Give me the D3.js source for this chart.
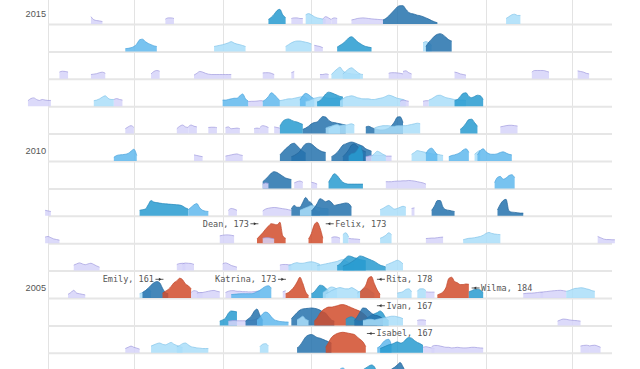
<!DOCTYPE html>
<html><head><meta charset="utf-8">
<script src="https://cdn.jsdelivr.net/npm/d3@7"></script>
<style>body{margin:0;background:#fff}svg{display:block}</style>
</head><body><svg id="chart" width="640" height="369"></svg>
<script>
// ---- data (winds in mph, one value per day from the start date) ----
const years = [2015,2014,2013,2012,2011,2010,2009,2008,2007,2006,2005,2004,2003,2002];
const labeledYears = [2015, 2010, 2005];
const monthTicks = ["06-01","07-01","08-01","09-01","10-01","11-01","12-01"];
const catColors  = ["#d6d3f9","#aadef9","#60b8ed","#289bd0","#2572ad","#d14c2c"];
const catStrokes = ["#a39ddf","#86c6ea","#4aa3dc","#2589bb","#22649a","#c0462a"];

const s2015 = [
 ["Bill",0,"06-16",[60,35,28,25,20]],
 ["Claudette",0,"07-12",[40,50,50,45]],
 ["Danny",3,"08-17",[38,55,80,110,120,75,52]],
 ["Erika",0,"08-25",[45,50,50,45,45]],
 ["Fred",1,"08-30",[75,85,75,60,50,45,40,35]],
 ["Grace",0,"09-05",[40,60,50,35]],
 ["Henri",0,"09-08",[40,50,45]],
 ["Ida",0,"09-15",[33,38,45,48,50,48,45,42,40,38,36,35]],
 ["Joaquin",4,"09-26",[33,45,65,90,115,140,150,150,120,95,85,80,72,68,60,50,40,28,18,10]],
 ["Kate",1,"11-08",[45,60,75,80,70,70]]
];
const s2014 = [
 ["Arthur",2,"06-28",[22,25,30,40,60,95,100,80,65,55,45,40]],
 ["Bertha",1,"07-29",[40,45,50,55,62,70,80,68,60,55,48,40]],
 ["Cristobal",1,"08-23",[40,55,70,80,85,85,80,75,70,60]],
 ["Dolly",0,"09-02",[50,45,40,30]],
 ["Edouard",3,"09-10",[35,50,65,85,110,120,105,80,65,50,40,35,30]],
 ["Fay",1,"10-10",[70,80,70,50]],
 ["Gonzalo",4,"10-11",[40,75,100,125,140,145,135,115,95,85]]
];
const s2013 = [
 ["Andrea",0,"06-05",[55,62,60,55]],
 ["Barry",0,"06-16",[35,38,42,50,54,45]],
 ["Chantal",0,"07-07",[40,60,68,62]],
 ["Dorian",0,"07-22",[30,45,60,55,45,38,35,35,35,35,35,35,35,35]],
 ["Erin",0,"08-15",[48,50,50,45,35]],
 ["Fernand",0,"08-25",[50,60]],
 ["Gabrielle",0,"09-04",[35,35,40,35]],
 ["Humberto",1,"09-08",[35,60,80,95,65,50,45,40,38,36,35]],
 ["Ingrid",1,"09-12",[40,60,80,90,75,55,40,35]],
 ["Jerry",0,"09-28",[45,50,50,48,45,40]],
 ["Karen",0,"10-03",[60,65,50,40]],
 ["Lorenzo",0,"10-21",[55,50,40,35,30]],
 ["Melissa",0,"11-17",[55,68,68,68,68,62,55]],
 ["Unnamed",0,"12-03",[65,60,55,45,40]]
];
const s2012 = [
 ["Beryl",0,"05-25",[45,62,68,55,47,55,50,47,47]],
 ["Chris",1,"06-17",[45,50,60,75,85,65,55,55]],
 ["Debby",0,"06-24",[55,62,55,50]],
 ["Ernesto",2,"08-01",[50,50,55,60,65,65,85,100,60,40]],
 ["Helene",0,"08-10",[38,40,40,42,45,45]],
 ["Gordon",2,"08-15",[40,55,80,110,95,70,45]],
 ["Isaac",1,"08-21",[45,50,55,60,60,65,70,75,80,70,50,35]],
 ["Kirk",2,"08-28",[50,85,105,95,75,60]],
 ["Leslie",1,"08-30",[40,45,55,65,70,75,75,70,65,65,65,70,60,50]],
 ["Michael",3,"09-03",[35,45,70,100,115,110,100,90,80,75]],
 ["Nadine",1,"09-11",[45,60,75,80,85,80,70,65,60,60,60,55,55,60,65,70,80,90,85,75,65,60,55,45]],
 ["Oscar",0,"10-02",[40,50,45,40]],
 ["Patty",0,"10-10",[40,45,45]],
 ["Rafael",1,"10-12",[50,60,75,88,90,80,70,65,60,55,55,50,50,45]],
 ["Sandy",3,"10-21",[45,55,80,105,110,80,70,80,90,85,55]]
];
const s2011 = [
 ["Arlene",0,"06-28",[40,55,65,50]],
 ["Bret",0,"07-16",[40,60,70,55,50]],
 ["Cindy",0,"07-20",[55,70,60,55]],
 ["Don",0,"07-27",[50,52,52,48]],
 ["Emily",0,"08-02",[48,55,40,42,45,40]],
 ["Franklin",0,"08-12",[40,45,40]],
 ["Gert",0,"08-14",[50,65,60,50]],
 ["Harvey",0,"08-19",[55,50,45]],
 ["Irene",3,"08-21",[60,100,115,120,110,100,95,85,75]],
 ["Katia",4,"08-29",[35,45,60,80,90,95,120,140,135,110,95,90,85,80,75,70]],
 ["Maria",1,"09-06",[45,55,60,65,65,65,70,70,75,80,70]],
 ["Nate",1,"09-07",[45,60,70,75,60]],
 ["Ophelia",4,"09-20",[55,60,50,40,35,30,30,35,45,65,95,135,138,90]],
 ["Philippe",1,"09-23",[45,55,60,65,65,65,60,60,65,65,65,65,70,75,80,85,80]],
 ["Rina",3,"10-23",[35,55,85,115,118,90,60]],
 ["Sean",0,"11-06",[55,60,65,68,68,65,62]]
];
const s2010 = [
 ["Alex",2,"06-24",[30,45,50,52,55,62,80,96,45]],
 ["Bonnie",0,"07-22",[50,45,40,35]],
 ["Colin",0,"08-02",[40,45,50,55,58,50,45]],
 ["Danielle",4,"08-21",[50,75,100,120,140,145,125,100,80,65]],
 ["Earl",4,"08-25",[35,45,60,80,115,140,145,140,120,100,85,75,70]],
 ["Igor",4,"09-08",[35,50,70,100,130,140,150,155,150,140,130,120,100,90,80]],
 ["Julia",4,"09-12",[35,60,90,130,140,120,100,85,75]],
 ["Karl",3,"09-14",[40,60,65,90,125,60]],
 ["Matthew",0,"09-20",[35,40,45,45,45,45,45,40,40,40]],
 ["Lisa",1,"09-22",[40,60,80,70,55,45]],
 ["Otto",1,"10-06",[55,70,85,80,75,70,65,60,55,55,50,45]],
 ["Paula",2,"10-11",[60,95,105,80,50]],
 ["Richard",2,"10-19",[35,45,50,58,70,90,100,70]],
 ["Shary",1,"10-28",[55,75,90]],
 ["Tomas",2,"10-29",[50,85,100,75,60,55,55,60,70,75,65,55,50]]
];
const s2009 = [
 ["Bill",4,"08-15",[55,75,100,125,137,130,115,100,85,78,72]],
 ["Claudette",0,"08-15",[35,45,40]],
 ["Danny",0,"08-26",[45,55,60,50]],
 ["Erika",0,"09-01",[50,45,35]],
 ["Fred",3,"09-07",[50,90,120,105,75,50,40,35,35,35,35,35,35]],
 ["Grace",0,"09-27",[55,55,55,58,60,60,62,62,65,63,60,55,50,45,35]],
 ["Ida",2,"11-04",[47,90,98,75,85,105,112,88]]
];
const s2008 = [
 ["Arthur",0,"05-31",[45,40,35]],
 ["Bertha",3,"07-03",[45,50,55,90,125,112,108,104,100,98,96,94,92,90,88,80,65,55]],
 ["Dolly",2,"07-20",[50,70,90,100,65,45,38,35]],
 ["Edouard",0,"08-03",[45,60,55,45]],
 ["Fay",0,"08-15",[40,55,62,66,68,66,62,58,55,50,45]],
 ["Gustav",4,"08-25",[55,85,70,70,110,150,120,105,60,40,35]],
 ["Hanna",1,"08-28",[45,55,65,75,85,80,70,65,60,60,55]],
 ["Ike",4,"09-01",[40,65,100,140,130,115,125,110,85,90,95,100,105,100,70]],
 ["Kyle",1,"09-25",[50,60,75,85,70,55,60,70,78,70]],
 ["Marco",0,"10-06",[60,65]],
 ["Omar",4,"10-13",[45,80,125,125,70,50,45,40,35]],
 ["Paloma",4,"11-05",[48,95,125,135,40,30,28,25,22,22]]
];
const s2007 = [
 ["Barry",0,"05-31",[50,55,45,35,30,25]],
 ["Chantal",0,"07-31",[60,65,68,68,65,60]],
 ["Dean",5,"08-13",[35,60,85,115,140,160,155,150,172,60,40]],
 ["Erin",0,"08-15",[40,45,45,40,35]],
 ["Felix",5,"08-31",[35,80,150,172,125,40]],
 ["Gabrielle",0,"09-08",[45,52,50,40]],
 ["Humberto",1,"09-12",[70,85,50]],
 ["Ingrid",0,"09-14",[40,36,35,33,30]],
 ["Karen",1,"09-25",[40,50,65,85,70]],
 ["Melissa",0,"10-11",[38,40,42,42,45,48,50]],
 ["Noel",1,"10-24",[28,35,40,42,45,50,55,65,80,88,80,75,72,70]],
 ["Olga",0,"12-10",[55,45,35,30,30,28,28]]
];
const s2006 = [
 ["Alberto",0,"06-10",[45,55,63,55,48,55,60,50,38,28]],
 ["Beryl",0,"07-16",[50,58,60,55]],
 ["Beryl-b",0,"07-18",[55,62,60,58,50]],
 ["Chris",0,"08-01",[55,63,55,42,35,28]],
 ["Debby",0,"08-21",[45,50,50,48,45]],
 ["Ernesto",1,"08-24",[40,50,60,65,60,60,65,70,72,68,60,50]],
 ["Florence",1,"09-03",[40,45,50,55,60,65,70,75,85,90,80,65,55,50]],
 ["Gordon",3,"09-10",[40,55,80,105,120,115,105,100,90,85,80]],
 ["Helene",3,"09-12",[35,45,55,70,85,105,120,115,105,95,85,75,60,45,38,30]],
 ["Isaac",1,"09-27",[45,55,65,75,85,75,55]]
];
const s2005 = [
 ["Arlene",0,"06-08",[30,45,63,40,35,30,25]],
 ["Cindy",1,"07-03",[35,45,60,75,50]],
 ["Dennis",4,"07-04",[45,60,80,105,125,135,125,80,45,35]],
 ["Emily",5,"07-11",[40,55,70,95,125,140,162,150,115,100,75]],
 ["Franklin",0,"07-21",[45,60,55,40,45,50,55,60,62,55,50]],
 ["Gert",0,"07-23",[40,45,45]],
 ["Harvey",0,"08-02",[45,55,60,60,55,55,52,52,50,50,52,55,55]],
 ["Irene",2,"08-04",[28,30,32,34,35,35,35,35,40,52,63,80,95,100,80]],
 ["Jose",0,"08-22",[50,60]],
 ["Katrina",5,"08-23",[35,45,65,92,130,170,120,50,22]],
 ["Maria",3,"09-01",[35,50,80,105,100,80,60]],
 ["Nate",1,"09-05",[45,60,80,90,85,70]],
 ["Ophelia",1,"09-06",[35,45,60,70,80,85,80,75,75,85,75,60,45]],
 ["Philippe",1,"09-17",[40,55,70,80,70,50,35]],
 ["Rita",5,"09-18",[50,75,105,165,175,117,65,30]],
 ["Stan",1,"10-01",[40,45,52,70,75,50]],
 ["Vince",1,"10-08",[55,75,75,60]],
 ["Unnamed",0,"10-11",[50,48,48,48]],
 ["Wilma",5,"10-15",[25,35,50,85,160,170,135,125,110,110,115,112]],
 ["Beta",3,"10-26",[50,60,70,72,65,45]],
 ["Gamma",0,"11-14",[35,38,40,40,42,45,48,45]],
 ["Delta",0,"11-20",[45,50,52,55,58,60,62,63,60,55]],
 ["Epsilon",1,"11-29",[55,60,70,78,80,84,82,75,70,60,55]]
];
const s2004 = [
 ["Alex",3,"07-31",[35,45,60,100,118,115,110]],
 ["Bonnie",0,"08-03",[35,38,40,38,38,38,38,40,42,45,55,60]],
 ["Charley",4,"08-09",[35,55,75,115,134,85,40]],
 ["Danielle",2,"08-13",[45,65,95,109,100,70,47,38,32,30,28,27]],
 ["Frances",4,"08-25",[55,80,105,125,135,138,140,143,140,135,125,110,100,70,45,35]],
 ["Gaston",1,"08-27",[45,60,75,50,40]],
 ["Ivan",5,"09-02",[35,60,100,125,140,150,150,155,160,168,170,165,155,145,135,125,115,100,80,50,40,35,30]],
 ["Jeanne",3,"09-13",[50,65,70,60,40,35,40,55,70,85,95,105,118,100,60,40]],
 ["Karl",4,"09-16",[40,70,110,143,140,120,100,85,80,70,55]],
 ["Lisa",1,"09-19",[40,45,50,50,45,50,55,60,65,70,75,75,70,65,55]],
 ["Matthew",0,"10-08",[40,45,45,40]],
 ["Otto",0,"11-26",[35,45,52,50,45,42,40,38,35]]
];
const s2003 = [
 ["Bill",0,"06-28",[35,45,55,45,38,30]],
 ["Claudette",1,"07-07",[55,65,75,80,70,65,75,85,70,60,50,45]],
 ["Danny",1,"07-16",[50,60,75,80,65,50,45,40,38,35,35,35]],
 ["Erika",1,"08-14",[50,70,75,55]],
 ["Fabian",4,"08-27",[40,60,95,130,145,150,140,125,120,110,100,90,80]],
 ["Isabel",5,"09-06",[45,85,125,145,158,165,168,165,160,155,150,130,110,90,50]],
 ["Juan",2,"09-24",[40,55,85,105,110,60]],
 ["Kate",3,"09-25",[35,45,55,65,70,80,90,80,85,110,125,120,100,85,75,60]],
 ["Mindy",0,"10-10",[45,50,45,40,35]],
 ["Nicholas",0,"10-13",[50,60,60,55,50,45,45,40,42,45,42,40,40,42,45,45,42,40,38]],
 ["Odette",0,"12-04",[55,60,62,58]],
 ["Peter",0,"12-07",[55,60,62,55,45]]
];
const s2002 = [
 ["Gustav",2,"09-08",[40,45,55,90,100,80]],
 ["Isidore",3,"09-14",[35,40,50,60,75,85,100,115,125,110,60,45,40,40]],
 ["Kyle",1,"09-20",[40,45,50,55,60,70,75,80,85,75,60,50]],
 ["Lili",4,"09-21",[35,45,55,60,55,50,60,75,90,105,125,145,110,60]]
];
const stormsByYear = {2015:s2015,2014:s2014,2013:s2013,2012:s2012,2011:s2011,2010:s2010,
  2009:s2009,2008:s2008,2007:s2007,2006:s2006,2005:s2005,2004:s2004,2003:s2003,2002:s2002};

// annotations
const annoNames  = ["Dean","Felix","Emily","Katrina","Rita","Wilma","Ivan","Isabel"];
const annoYears  = [2007,2007,2005,2005,2005,2005,2004,2003];
const annoValues = [173,173,161,173,178,184,167,167];
const annoSide   = ["left","right","left","left","right","right","right","right"];
const annoTips   = ["08-12 19","09-06 17","07-10 15","08-22 10","09-24 14","10-27 16","09-24 14","09-21 02"];
const annoLevels = [159,159,153,153,153,82,161,158];

// ---- drawing ----
const W = 640, H = 369;
const svg = d3.select("#chart");
const parseDay = d3.utcParse("%Y-%m-%d");
const parseTip = d3.utcParse("%Y-%m-%d %H");
const REF = "2001-";
const x = d3.scaleUtc().domain([parseDay(REF+"06-01"), parseDay(REF+"12-15")]).range([48, 612]);
const row = d3.scalePoint().domain(years).range([24, 380.2]);
const hgt = d3.scaleLinear().domain([0, 180]).range([0, 22]);

// vertical month grid
svg.append("g").selectAll("line").data(monthTicks).join("line")
  .attr("x1", d => Math.round(x(parseDay(REF+d))) + 0.5)
  .attr("x2", d => Math.round(x(parseDay(REF+d))) + 0.5)
  .attr("y1", 0).attr("y2", H)
  .attr("stroke", "#e3e3e3").attr("stroke-width", 1);

// row baselines
svg.append("g").selectAll("line").data(years).join("line")
  .attr("x1", x.range()[0]).attr("x2", x.range()[1])
  .attr("y1", d => row(d) + 0.5).attr("y2", d => row(d) + 0.5)
  .attr("stroke", "#e6e6e6").attr("stroke-width", 2);

// year labels
svg.append("g").selectAll("text").data(labeledYears).join("text")
  .attr("x", 46).attr("y", d => row(d) - 7)
  .attr("text-anchor", "end")
  .attr("font-family", "'Liberation Sans', Arial, sans-serif")
  .attr("font-size", 9.2).attr("fill", "#555")
  .text(d => d);

const stormInfo = {};
years.forEach(yr => {
  const base = row(yr);
  const list = stormsByYear[yr].map(([name, cat, start, w], idx) => {
    const t0 = parseDay(REF + start);
    const pts = w.map((v, i) => ({t: d3.utcDay.offset(t0, i), v}));
    return {name, cat, t0, pts, idx};
  });
  list.sort((a, b) => (a.t0 - b.t0) || (a.idx - b.idx));
  list.forEach(s => { stormInfo[yr + s.name] = s; });
  const area = d3.area().curve(d3.curveMonotoneX)
    .x(d => x(d.t)).y0(base).y1(d => base - hgt(d.v));
  const line = d3.line().curve(d3.curveMonotoneX)
    .x(d => x(d.t)).y(d => base - hgt(d.v));
  const g = svg.append("g");
  list.forEach(s => {
    g.append("path").attr("d", area(s.pts))
      .attr("fill", catColors[s.cat]).attr("fill-opacity", 0.85);
    g.append("path").attr("d", line(s.pts))
      .attr("fill", "none").attr("stroke", catStrokes[s.cat])
      .attr("stroke-width", 0.8).attr("stroke-opacity", 0.9);
  });
});

// annotations
const ag = svg.append("g");
annoNames.forEach((name, i) => {
  const yr = annoYears[i];
  const tipX = x(parseTip(REF + annoTips[i]));
  const y = row(yr) - hgt(annoLevels[i]);
  const dir = annoSide[i] === "left" ? -1 : 1;  // label side
  const tail = tipX + dir * 6;
  ag.append("line").attr("x1", tail).attr("x2", tipX - dir * 2)
    .attr("y1", y).attr("y2", y).attr("stroke", "#333").attr("stroke-width", 0.8);
  ag.append("path")
    .attr("d", `M${tipX},${y} L${tipX - dir*(-0) + dir*2.6},${y-1.6} L${tipX + dir*2.6},${y+1.6} Z`)
    .attr("fill", "#333");
  ag.append("text")
    .attr("x", tail + dir * 1.5).attr("y", y).attr("dy", "0.33em")
    .attr("text-anchor", dir < 0 ? "end" : "start")
    .attr("font-family", "'DejaVu Sans Mono', monospace")
    .attr("font-size", 8.5).attr("fill", "#555")
    .text(`${name}, ${annoValues[i]}`);
});
</script></body></html>
